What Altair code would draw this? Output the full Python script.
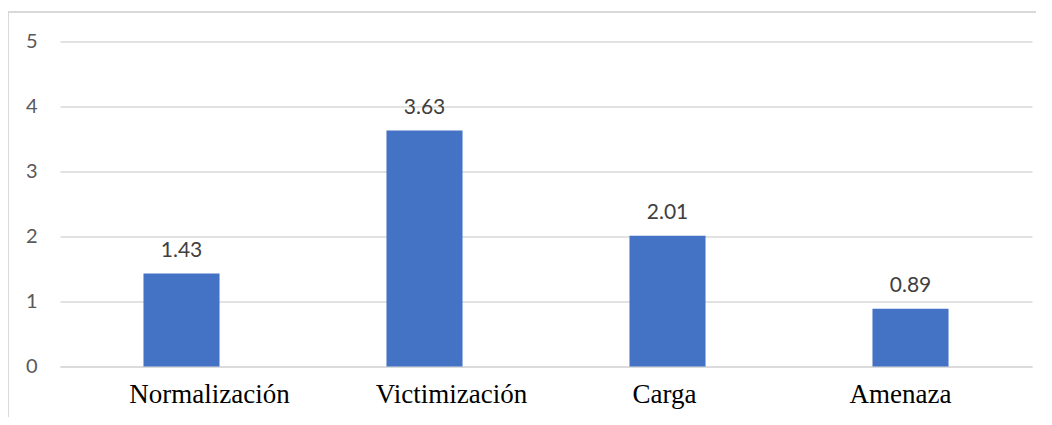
import altair as alt
import pandas as pd

categories = ["Normalización", "Victimización", "Carga", "Amenaza"]
values = [1.43, 3.63, 2.01, 0.89]
labels = ["1.43", "3.63", "2.01", "0.89"]

df = pd.DataFrame({"cat": categories, "val": values, "lab": labels})

W, H = 972, 325
GRID = "#d9d9d9"

label_offset = {
    "condition": [
        {"test": "datum.value == 'Normalización'", "value": 28},
        {"test": "datum.value == 'Victimización'", "value": 27},
        {"test": "datum.value == 'Carga'", "value": -3},
        {"test": "datum.value == 'Amenaza'", "value": -10},
    ],
    "value": 0,
}

base = alt.Chart(df).encode(
    x=alt.X("cat:N", sort=categories, title=None,
            scale=alt.Scale(paddingInner=0.687, paddingOuter=0.3435),
            axis=alt.Axis(labelAngle=0, labelFont="Liberation Serif", labelFontSize=27,
                          labelColor="#000000", labelPadding=15, ticks=False,
                          labelOffset=label_offset,
                          domain=True, domainColor=GRID, domainWidth=1.3, grid=False)),
)

bars = base.mark_bar(color="#4472C4").encode(
    y=alt.Y("val:Q", title=None,
            scale=alt.Scale(domain=[0, 5], nice=False),
            axis=alt.Axis(values=[0, 1, 2, 3, 4, 5], format="d", labelFont="Lato",
                          labelFontSize=20, labelColor="#595959", labelPadding=23,
                          ticks=False, domain=False, grid=True, gridColor=GRID,
                          gridWidth=1.3))
)

text = base.mark_text(font="Lato", fontSize=21, color="#404040", baseline="alphabetic",
                      dy=-17).encode(
    y=alt.Y("val:Q"),
    text="lab:N",
)

frame_left = alt.Chart(df).mark_rule(color=GRID, strokeWidth=1.5).encode(
    x=alt.value(-52), y=alt.value(-29.5), y2=alt.value(400)
)
frame_top = alt.Chart(df).mark_rule(color=GRID, strokeWidth=1.5).encode(
    x=alt.value(-52), x2=alt.value(1000), y=alt.value(-29.5)
)

chart = alt.layer(frame_left, frame_top, bars, text).properties(
    width=W, height=H,
    autosize=alt.AutoSizeParams(type="none"),
    padding={"left": 52, "top": 33.5, "right": 4, "bottom": 50},
).configure_view(stroke=None)

chart.save("out.html", embed_options={"renderer": "svg", "actions": False})
